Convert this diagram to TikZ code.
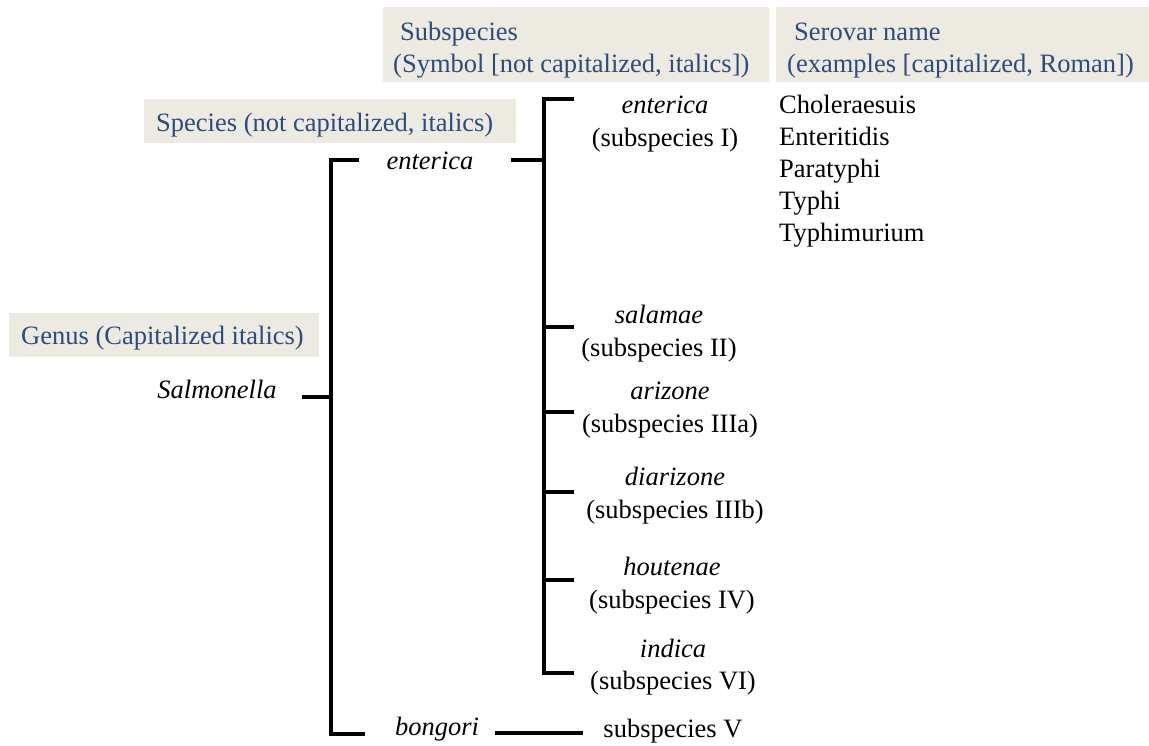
\documentclass[tikz,border=0pt]{standalone}
\usepackage{fontspec}
\setmainfont{Liberation Serif}
\definecolor{boxbeige}{RGB}{237,235,225}
\definecolor{hdrblue}{RGB}{45,75,125}
\newcommand{\bodysize}{\fontsize{26.5}{32}\selectfont}
\begin{document}
\begin{tikzpicture}[x=1pt,y=-1pt,
  hdrbox/.style={fill=boxbeige,draw=none,inner sep=0pt,anchor=north west},
  hdrtext/.style={text=hdrblue,inner sep=0pt,anchor=base west,font=\bodysize},
  body/.style={inner sep=0pt,anchor=base,font=\bodysize},
  bodyw/.style={inner sep=0pt,anchor=base west,font=\bodysize},
  branch/.style={line width=4pt,line join=miter,line cap=butt}]
\useasboundingbox (0,0) rectangle (1149,745);

% header boxes
\node[hdrbox,minimum width=386pt,minimum height=75pt] (subbox) at (383,7) {};
\node[hdrbox,minimum width=373pt,minimum height=75pt] (serbox) at (776,7) {};
\node[hdrbox,minimum width=372pt,minimum height=44pt] (specbox) at (144,99) {};
\node[hdrbox,minimum width=310pt,minimum height=44pt] (genbox) at (9,313) {};

\node[hdrtext] (subh1) at (400,40) {Subspecies};
\node[hdrtext] (subh2) at (393,72) {(Symbol [not capitalized, italics])};
\node[hdrtext] (serh1) at (794,40) {Serovar name};
\node[hdrtext] (serh2) at (787,72) {(examples [capitalized, Roman])};
\node[hdrtext] (spech) at (156,131) {Species (not capitalized, italics)};
\node[hdrtext] (genh) at (21,344) {Genus (Capitalized italics)};

% taxa
\node[body] (salm) at (217,398) {\itshape Salmonella};
\node[body] (ent) at (430,169) {\itshape enterica};
\node[body] (bong) at (437,735) {\itshape bongori};
\node[body] (ssV) at (673,737) {subspecies V};

\node[body] (s1a) at (665,113) {\itshape enterica};
\node[body] (s1b) at (665,146) {(subspecies I)};
\node[body] (s2a) at (659,323) {\itshape salamae};
\node[body] (s2b) at (659,356) {(subspecies II)};
\node[body] (s3a) at (670,399) {\itshape arizone};
\node[body] (s3b) at (670,432) {(subspecies IIIa)};
\node[body] (s4a) at (675,485) {\itshape diarizone};
\node[body] (s4b) at (675,518) {(subspecies IIIb)};
\node[body] (s5a) at (672,575) {\itshape houtenae};
\node[body] (s5b) at (672,608) {(subspecies IV)};
\node[body] (s6a) at (673,657) {\itshape indica};
\node[body] (s6b) at (673,689) {(subspecies VI)};

% serovars
\node[bodyw] (sv1) at (779,113) {Choleraesuis};
\node[bodyw] (sv2) at (779,145) {Enteritidis};
\node[bodyw] (sv3) at (779,177) {Paratyphi};
\node[bodyw] (sv4) at (779,209) {Typhi};
\node[bodyw] (sv5) at (779,241) {Typhimurium};

% junction coordinates
\coordinate (gTopE) at (359,160);
\coordinate (gTop) at (331,160);
\coordinate (gBot) at (331,734);
\coordinate (gBotE) at (365,734);
\coordinate (salE) at (302,397);
\coordinate (gMid) at (331,397);
\coordinate (entE) at (511,160);
\coordinate (sMid) at (544,160);
\coordinate (sTop) at (544,99);
\coordinate (sTopE) at (574,99);
\coordinate (sBot) at (544,673);
\coordinate (sBotE) at (574,673);
\coordinate (b2) at (544,327);  \coordinate (b2E) at (574,327);
\coordinate (b3) at (544,412);  \coordinate (b3E) at (574,412);
\coordinate (b4) at (544,492);  \coordinate (b4E) at (574,492);
\coordinate (b5) at (544,580);  \coordinate (b5E) at (574,580);
\coordinate (bonL) at (495,733);
\coordinate (bonR) at (583,733);

\draw[branch] (gTopE) -- (gTop) -- (gBot) -- (gBotE);
\draw[branch] (salE) -- (gMid);
\draw[branch] (entE) -- (sMid);
\draw[branch] (sTopE) -- (sTop) -- (sBot) -- (sBotE);
\draw[branch] (b2) -- (b2E);
\draw[branch] (b3) -- (b3E);
\draw[branch] (b4) -- (b4E);
\draw[branch] (b5) -- (b5E);
\draw[branch] (bonL) -- (bonR);
\end{tikzpicture}
\end{document}
